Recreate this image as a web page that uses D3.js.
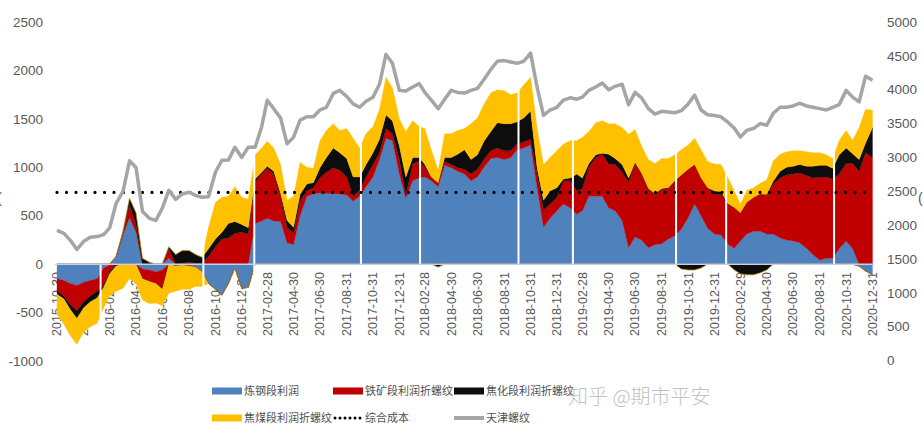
<!DOCTYPE html>
<html><head><meta charset="utf-8">
<script src="https://cdn.jsdelivr.net/npm/d3@7"></script>
<style>body{margin:0;background:#fff;overflow:hidden}svg{display:block}</style>
</head><body><svg id="c" width="924" height="436"></svg>
<script>
// ---- data (sampled twice a month: 15th and month end, from 2015-10-30) ----
const startDate = "2015-10-30";
const endDate = "2020-12-31";
const seriesNames = ["炼钢段利润","铁矿段利润折螺纹","焦化段利润折螺纹","焦煤段利润折螺纹"];
const lineNames = ["综合成本","天津螺纹"];
const blue = [-150,-170,-200,-220,-190,-170,-150,-40,-10,80,300,480,330,-50,-60,-80,-60,60,-20,-10,-20,-30,-80,-200,-260,-320,-200,-40,-250,-240,
420,445,475,445,440,220,200,500,700,725,735,730,730,725,715,650,700,800,900,1080,1300,1275,930,680,860,890,900,860,800,1020,
995,960,930,860,900,1000,1090,1100,1080,1100,1180,1200,1230,790,380,475,550,620,580,515,550,700,700,700,580,550,450,170,280,250,
170,200,210,260,290,360,480,620,500,370,310,300,205,165,240,310,340,340,310,310,270,250,240,220,165,100,40,60,60,160,
240,160,-20,-70,-110];
const red = [-130,-160,-220,-260,-200,-160,-130,-180,-70,0,30,130,80,-100,-120,-120,-190,100,0,10,20,10,10,80,180,260,270,320,330,310,
430,485,515,485,260,160,120,150,60,65,155,220,265,245,185,50,60,100,130,70,100,70,150,30,175,175,100,30,40,40,
35,35,50,70,80,80,80,100,90,70,60,60,60,140,180,145,135,240,280,240,230,300,400,435,455,480,500,680,760,680,
600,520,560,520,560,560,500,410,390,420,415,420,415,420,290,330,350,385,410,515,620,670,690,720,750,790,860,840,820,770,
800,880,960,1150,1100];
const black = [-30,-30,-50,-80,-60,-60,-70,-20,-20,-20,10,70,120,60,20,0,-10,20,100,130,120,90,60,80,80,70,150,120,80,65,
30,20,20,30,30,70,60,70,70,50,105,150,205,180,190,200,140,130,120,140,140,135,140,190,65,35,30,10,-30,40,
70,140,200,150,150,190,200,260,280,280,230,250,290,65,100,135,105,20,30,175,110,40,30,10,100,60,80,40,10,10,
10,10,10,10,10,-50,-60,-60,-40,0,30,30,5,-60,-100,-110,-110,-90,-60,30,70,80,80,90,95,120,120,120,110,200,
160,100,120,100,310];
const yellow = [-210,-260,-270,-270,-250,-260,-260,-210,-230,-260,-250,-150,-200,-220,-230,-200,-170,-300,-260,-250,-240,-200,-150,220,380,360,280,360,280,295,
250,250,260,240,300,210,320,330,170,150,280,280,250,230,310,400,300,320,270,310,390,340,280,470,380,320,370,280,130,245,
245,245,220,370,380,380,400,340,340,300,300,340,350,415,370,345,380,360,385,345,420,330,330,335,315,360,380,450,340,280,
300,310,310,300,270,260,250,270,290,270,280,280,270,170,90,120,100,110,150,210,175,160,160,140,150,140,130,110,100,150,
180,140,330,350,180];
const tianjin = [1923,1878,1775,1640,1760,1819,1830,1860,1960,2322,2500,2950,2850,2200,2100,2070,2250,2514,2380,2460,2485,2440,2410,2420,2780,2958,2960,3150,3000,3150,
3150,3450,3845,3720,3580,3200,3300,3550,3600,3600,3700,3740,3945,3990,3900,3790,3740,3830,3890,4080,4520,4390,3990,3980,4040,4090,3960,3845,3720,3860,
3990,3960,3950,3990,4020,4150,4300,4420,4430,4410,4390,4420,4540,4040,3620,3700,3740,3845,3880,3860,3890,3990,4040,4100,4000,4050,4080,3780,3960,3880,
3720,3640,3680,3670,3660,3690,3790,3920,3700,3630,3620,3600,3520,3430,3300,3400,3430,3500,3475,3650,3740,3740,3760,3800,3760,3740,3720,3700,3740,3780,
3990,3890,3820,4200,4140];
const costLevel = 740;
const tickLabels = ["2015-10-30","2015-12-31","2016-02-29","2016-04-30","2016-06-30","2016-08-31","2016-10-31","2016-12-31",
"2017-02-28","2017-04-30","2017-06-30","2017-08-31","2017-10-31","2017-12-31","2018-02-28","2018-04-30","2018-06-30","2018-08-31",
"2018-10-31","2018-12-31","2019-02-28","2019-04-30","2019-06-30","2019-08-31","2019-10-31","2019-12-31","2020-02-29","2020-04-30",
"2020-06-30","2020-08-31","2020-10-31","2020-12-31"];
const holidayGaps = ["2016-02-08","2016-10-03","2017-01-29","2017-10-03","2018-02-17","2018-10-03","2019-02-06","2019-10-03","2020-01-27","2020-10-03"];
const leftTicks = [-1000,-500,0,500,1000,1500,2000,2500];
const rightTicks = [0,500,1000,1500,2000,2500,3000,3500,4000,4500,5000];
const colors = ["#4f81bd","#c00000","#0d0d0d","#ffc000"];
const greyColor = "#a5a5a5";

// ---- dates ----
const parse = d3.timeParse("%Y-%m-%d");
const dates = [parse(startDate)];
for (let k = 1; k <= 62; k++) {
  const f = new Date(2015, 9 + k, 1);
  dates.push(new Date(f.getFullYear(), f.getMonth(), 15));
  dates.push(new Date(f.getFullYear(), f.getMonth() + 1, 0));
}
const keys = ["blue","red","black","yellow"];
const rows = dates.map((d, i) => ({date: d, blue: blue[i], red: red[i], black: black[i], yellow: yellow[i], tj: tianjin[i]}));

const svg = d3.select("#c");
const x = d3.scaleTime().domain([parse(startDate), parse(endDate)]).range([57, 872.5]);
const yL = d3.scaleLinear().domain([-1000, 2500]).range([361, 22]);
const yR = d3.scaleLinear().domain([0, 5000]).range([360.5, 22]);
const txt = "#595959";

// left axis labels
svg.append("g").selectAll("text").data(leftTicks).join("text")
  .attr("x", 43).attr("y", d => yL(d)).attr("dy", "0.35em").attr("text-anchor", "end")
  .attr("font-family", "Liberation Sans, Arial, sans-serif").attr("font-size", 13.5).attr("fill", txt)
  .text(d => d);
// right axis labels
svg.append("g").selectAll("text").data(rightTicks).join("text")
  .attr("x", 887).attr("y", d => yR(d)).attr("dy", "0.35em").attr("text-anchor", "start")
  .attr("font-family", "Liberation Sans, Arial, sans-serif").attr("font-size", 13.5).attr("fill", txt)
  .text(d => d);
// cut-off axis titles
svg.append("text").attr("x", -3).attr("y", 203).attr("font-size", 14).attr("fill", txt).attr("font-family", "Liberation Sans, sans-serif").text("(");
svg.append("text").attr("x", 918).attr("y", 203).attr("font-size", 14).attr("fill", txt).attr("font-family", "Liberation Sans, sans-serif").text("(");

// x tick labels (drawn beneath areas)
svg.append("g").selectAll("text").data(tickLabels).join("text")
  .attr("transform", d => `translate(${x(parse(d))},272) rotate(-90)`)
  .attr("text-anchor", "end").attr("dy", "0.35em")
  .attr("font-family", "Liberation Sans, Arial, sans-serif").attr("font-size", 12.5).attr("fill", txt)
  .text(d => d);

// stacked areas (positive and negative parts stacked separately)
const pos = d3.stack().keys(keys).value((d, k) => Math.max(0, d[k]))(rows);
const neg = d3.stack().keys(keys).value((d, k) => Math.min(0, d[k]))(rows);
const area = d3.area().x(d => x(d.data.date)).y0(d => yL(d[0])).y1(d => yL(d[1]));
const ga = svg.append("g");
keys.forEach((k, i) => {
  ga.append("path").attr("d", area(neg[i])).attr("fill", colors[i]).attr("stroke", colors[i]).attr("stroke-width", 0.3);
  ga.append("path").attr("d", area(pos[i])).attr("fill", colors[i]).attr("stroke", colors[i]).attr("stroke-width", 0.3);
});

// holiday gaps (white breaks in the data)
const bis = d3.bisector(d => d.date).left;
svg.append("g").selectAll("line").data(holidayGaps).join("line")
  .each(function(g) {
    const dt = parse(g);
    const i = Math.max(1, bis(rows, dt));
    const top = Math.max(pos[3][i - 1][1], pos[3][i][1]);
    const bot = Math.min(neg[3][i - 1][1], neg[3][i][1]);
    d3.select(this).attr("x1", x(dt)).attr("x2", x(dt))
      .attr("y1", yL(Math.max(top, 0))).attr("y2", yL(Math.min(bot, 0)));
  })
  .attr("stroke", "#fff").attr("stroke-width", 2);

// zero axis line
svg.append("line").attr("x1", 55).attr("x2", 874).attr("y1", yL(0)).attr("y2", yL(0))
  .attr("stroke", "#c5d3ea").attr("stroke-width", 1.5);

// cost line (dotted)
svg.append("line").attr("x1", x(parse(startDate))).attr("x2", x(parse(endDate)))
  .attr("y1", yL(costLevel)).attr("y2", yL(costLevel))
  .attr("stroke", "#000").attr("stroke-width", 3.2).attr("stroke-linecap", "round").attr("stroke-dasharray", "0 9.5");

// Tianjin rebar (right axis)
svg.append("path").datum(rows)
  .attr("d", d3.line().x(d => x(d.date)).y(d => yR(d.tj)))
  .attr("fill", "none").attr("stroke", greyColor).attr("stroke-width", 3.5).attr("stroke-linejoin", "round");

// legend
const lg = svg.append("g").attr("font-family", "Noto Sans CJK SC, sans-serif").attr("font-size", 11).attr("fill", "#505050");
const legendItems = [
  {name: seriesNames[0], type: "rect", color: colors[0], x: 212, y: 391},
  {name: seriesNames[1], type: "rect", color: colors[1], x: 333, y: 391},
  {name: seriesNames[2], type: "rect", color: colors[2], x: 454, y: 391},
  {name: seriesNames[3], type: "rect", color: colors[3], x: 212, y: 418},
  {name: lineNames[0], type: "dot", color: "#000", x: 333, y: 418},
  {name: lineNames[1], type: "line", color: greyColor, x: 454, y: 418}
];
legendItems.forEach(it => {
  if (it.type === "rect") lg.append("rect").attr("x", it.x).attr("y", it.y - 3.5).attr("width", 30).attr("height", 7).attr("fill", it.color);
  else if (it.type === "dot") lg.append("line").attr("x1", it.x + 2).attr("x2", it.x + 30).attr("y1", it.y).attr("y2", it.y)
    .attr("stroke", it.color).attr("stroke-width", 3).attr("stroke-linecap", "round").attr("stroke-dasharray", "0 5");
  else lg.append("line").attr("x1", it.x).attr("x2", it.x + 30).attr("y1", it.y).attr("y2", it.y).attr("stroke", it.color).attr("stroke-width", 4);
  lg.append("text").attr("x", it.x + 32).attr("y", it.y).attr("dy", "0.36em").text(it.name);
});

// watermark
svg.append("text").attr("x", 568).attr("y", 404).attr("font-family", "Noto Sans CJK SC, sans-serif")
  .attr("font-size", 20).attr("font-weight", 300).attr("fill", "#b8b8b8").attr("opacity", 0.85).text("知乎 @期市平安");
</script></body></html>
